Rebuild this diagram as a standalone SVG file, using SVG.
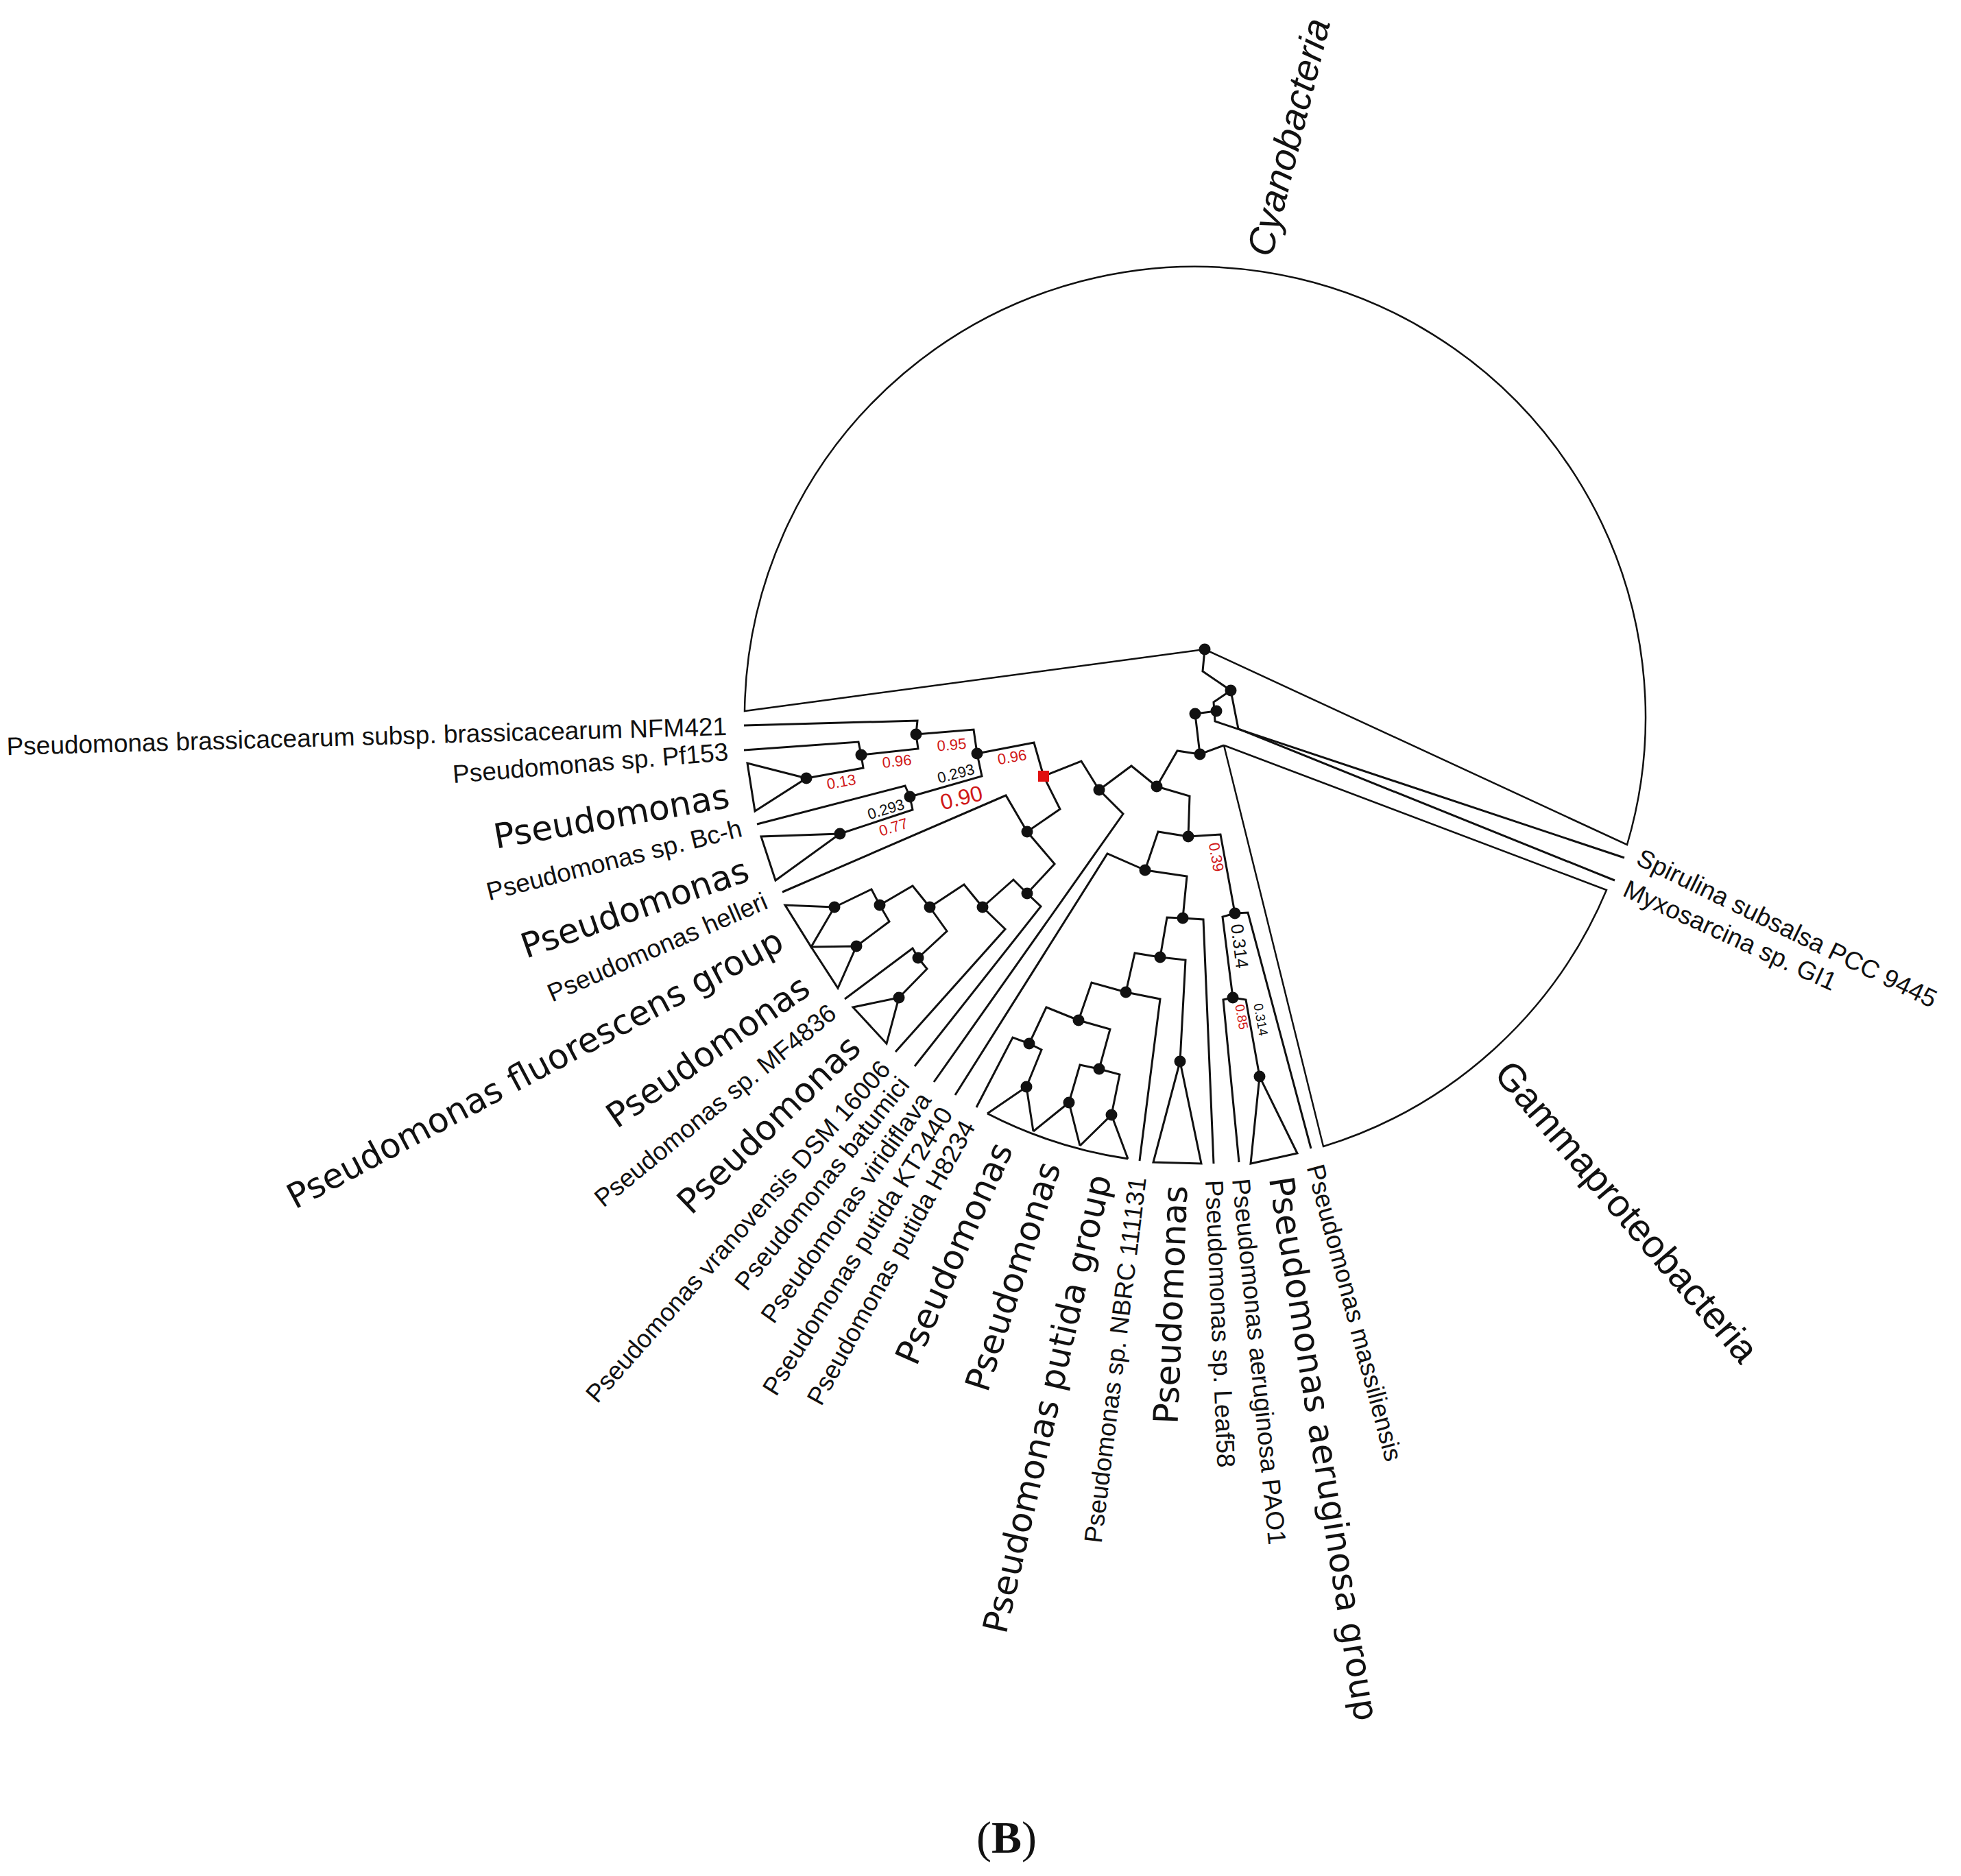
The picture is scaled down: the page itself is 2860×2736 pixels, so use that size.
<svg xmlns="http://www.w3.org/2000/svg" width="2860" height="2736" viewBox="0 0 2860 2736">
<style>
.br{fill:none;stroke:#111;stroke-width:3;stroke-linejoin:miter}
.wg{fill:none;stroke:#111;stroke-width:2.5}
.dot{fill:#111}
.sm{font-family:"Liberation Sans",Arial,sans-serif;font-size:37px;fill:#111}
.big{font-family:"DejaVu Sans",Verdana,sans-serif;font-size:50px;fill:#111}
.sup{font-family:"Liberation Sans",Arial,sans-serif;font-size:22px;fill:#111}
.red{fill:#d01818}
.cl{font-family:"Liberation Sans",Arial,sans-serif;font-size:56px;fill:#111}
</style>
<rect width="2860" height="2736" fill="#fff"/>
<g id="connectors">
<path class="wg" d="M1757,947 L1086,1037 A657,657 0 1 1 2373,1232 L1757,947"/>
<path class="wg" d="M1785,1087 L2343,1298 A657,657 0 0 1 1930,1672 L1785,1087"/>
<path class="br" d="M1757,947 L1754,979 L1795,1007"/>
<path class="br" d="M1795,1007 L1770,1024 L1772,1052 L2369,1251"/>
<path class="br" d="M1795,1007 L1806,1063 L2355,1284"/>
<path class="br" d="M1743,1041 L1774,1037"/>
<path class="br" d="M1743,1041 L1750,1100 L1785,1087"/>
<path class="br" d="M1750,1100 L1717,1095 L1687,1147"/>
<path class="br" d="M1687,1147 L1735,1161 L1733,1220"/>
<path class="br" d="M1687,1147 L1650,1117 L1603,1152"/>
<path class="br" d="M1603,1152 L1577,1110 L1522,1132"/>
<path class="br" d="M1603,1152 L1638,1187 L1362,1578"/>
<path class="br" d="M1522,1132 L1508,1083 L1425,1099"/>
<path class="br" d="M1522,1132 L1546,1180 L1498,1213"/>
<path class="br" d="M1425,1099 L1420,1064 L1336,1071"/>
<path class="br" d="M1425,1099 L1432,1132 L1327,1162"/>
<path class="br" d="M1336,1071 L1338,1051 L1085,1058"/>
<path class="br" d="M1336,1071 L1339,1092 L1256,1101"/>
<path class="br" d="M1256,1101 L1252,1082 L1085,1094"/>
<path class="br" d="M1256,1101 L1259,1120 L1176,1135"/>
<path class="br" d="M1176,1135 L1090,1113 L1101,1183 Z"/>
<path class="br" d="M1327,1162 L1320,1146 L1104,1202"/>
<path class="br" d="M1327,1162 L1331,1181 L1225,1216"/>
<path class="br" d="M1225,1216 L1110,1220 L1131,1284 Z"/>
<path class="br" d="M1498,1213 L1467,1160 L1141,1301"/>
<path class="br" d="M1498,1213 L1538,1260 L1498,1303"/>
<path class="br" d="M1498,1303 L1478,1283 L1433,1323"/>
<path class="br" d="M1498,1303 L1518,1322 L1334,1555"/>
<path class="br" d="M1433,1323 L1406,1290 L1356,1323"/>
<path class="br" d="M1433,1323 L1466,1355 L1306,1534"/>
<path class="br" d="M1356,1323 L1331,1292 L1283,1320"/>
<path class="br" d="M1356,1323 L1381,1358 L1339,1397"/>
<path class="br" d="M1283,1320 L1271,1297 L1217,1323"/>
<path class="br" d="M1283,1320 L1297,1344 L1249,1380"/>
<path class="br" d="M1217,1323 L1145,1320 L1183,1381 Z"/>
<path class="br" d="M1249,1380 L1183,1381 L1222,1441 Z"/>
<path class="br" d="M1339,1397 L1331,1383 L1232,1457"/>
<path class="br" d="M1339,1397 L1352,1413 L1311,1455"/>
<path class="br" d="M1311,1455 L1244,1469 L1293,1522 Z"/>
<path class="br" d="M1733,1220 L1689,1213 L1670,1269"/>
<path class="br" d="M1733,1220 L1780,1217 L1801,1332"/>
<path class="br" d="M1670,1269 L1615,1245 L1393,1597"/>
<path class="br" d="M1670,1269 L1731,1278 L1725,1339"/>
<path class="br" d="M1725,1339 L1702,1338 L1692,1396"/>
<path class="br" d="M1725,1339 L1755,1341 L1770,1697"/>
<path class="br" d="M1692,1396 L1655,1390 L1642,1447"/>
<path class="br" d="M1692,1396 L1729,1400 L1721,1548"/>
<path class="br" d="M1721,1548 L1682,1695 L1752,1697 Z"/>
<path class="br" d="M1642,1447 L1592,1433 L1573,1488"/>
<path class="br" d="M1642,1447 L1692,1457 L1662,1693"/>
<path class="br" d="M1573,1488 L1526,1469 L1501,1522"/>
<path class="br" d="M1573,1488 L1619,1501 L1603,1559"/>
<path class="br" d="M1501,1522 L1477,1513 L1424,1615"/>
<path class="br" d="M1501,1522 L1519,1531 L1497,1585"/>
<path class="br" d="M1603,1559 L1575,1553 L1559,1608"/>
<path class="br" d="M1603,1559 L1633,1567 L1621,1626"/>
<path class="br" d="M1440,1624 L1497,1585 L1507,1650"/>
<path class="br" d="M1507,1650 L1559,1608 L1575,1671"/>
<path class="br" d="M1575,1671 L1621,1626 L1645,1690"/>
<path class="br" d="M1440,1624 A657,657 0 0 0 1645,1690"/>
<path class="br" d="M1801,1332 L1783,1337 L1798,1455"/>
<path class="br" d="M1801,1332 L1820,1331 L1912,1675"/>
<path class="br" d="M1798,1455 L1784,1458 L1807,1695"/>
<path class="br" d="M1798,1455 L1817,1458 L1837,1570"/>
<path class="br" d="M1837,1570 L1824,1697 L1892,1682 Z"/>
</g>
<g id="nodes">
<g id="n-root"><circle class="dot" cx="1757" cy="947" r="8.5"/></g>
<g id="n1"><circle class="dot" cx="1795" cy="1007" r="8.5"/></g>
<g id="n2"><circle class="dot" cx="1774" cy="1037" r="8.5"/></g>
<g id="n3"><circle class="dot" cx="1743" cy="1041" r="8.5"/></g>
<g id="n4"><circle class="dot" cx="1750" cy="1100" r="8.5"/></g>
<g id="n5"><circle class="dot" cx="1687" cy="1147" r="8.5"/></g>
<g id="n6"><circle class="dot" cx="1733" cy="1220" r="8.5"/></g>
<g id="n7"><circle class="dot" cx="1603" cy="1152" r="8.5"/></g>
<g id="n8"><circle class="dot" cx="1670" cy="1269" r="8.5"/></g>
<g id="n9"><circle class="dot" cx="1725" cy="1339" r="8.5"/></g>
<g id="n10"><circle class="dot" cx="1692" cy="1396" r="8.5"/></g>
<g id="n11"><circle class="dot" cx="1642" cy="1447" r="8.5"/></g>
<g id="p1"><circle class="dot" cx="1573" cy="1488" r="8.5"/></g>
<g id="p2"><circle class="dot" cx="1501" cy="1522" r="8.5"/></g>
<g id="p3"><circle class="dot" cx="1603" cy="1559" r="8.5"/></g>
<g id="p4"><circle class="dot" cx="1559" cy="1608" r="8.5"/></g>
<g id="p5"><circle class="dot" cx="1621" cy="1626" r="8.5"/></g>
<g id="p6"><circle class="dot" cx="1497" cy="1585" r="8.5"/></g>
<g id="t1"><circle class="dot" cx="1721" cy="1548" r="8.5"/></g>
<g id="a1"><circle class="dot" cx="1801" cy="1332" r="8.5"/></g>
<g id="a2"><circle class="dot" cx="1798" cy="1455" r="8.5"/></g>
<g id="a3"><circle class="dot" cx="1837" cy="1570" r="8.5"/></g>
<g id="m1"><circle class="dot" cx="1336" cy="1071" r="8.5"/></g>
<g id="m2"><circle class="dot" cx="1425" cy="1099" r="8.5"/></g>
<g id="m3"><circle class="dot" cx="1256" cy="1101" r="8.5"/></g>
<g id="m4"><circle class="dot" cx="1176" cy="1135" r="8.5"/></g>
<g id="m5"><circle class="dot" cx="1327" cy="1162" r="8.5"/></g>
<g id="m6"><circle class="dot" cx="1225" cy="1216" r="8.5"/></g>
<g id="m7"><circle class="dot" cx="1498" cy="1213" r="8.5"/></g>
<g id="m8"><circle class="dot" cx="1498" cy="1303" r="8.5"/></g>
<g id="m9"><circle class="dot" cx="1433" cy="1323" r="8.5"/></g>
<g id="m10"><circle class="dot" cx="1356" cy="1323" r="8.5"/></g>
<g id="m11"><circle class="dot" cx="1283" cy="1320" r="8.5"/></g>
<g id="m12"><circle class="dot" cx="1217" cy="1323" r="8.5"/></g>
<g id="m13"><circle class="dot" cx="1249" cy="1380" r="8.5"/></g>
<g id="m14"><circle class="dot" cx="1339" cy="1397" r="8.5"/></g>
<g id="m15"><circle class="dot" cx="1311" cy="1455" r="8.5"/></g>
<g id="n-red"><rect x="1514" y="1124" width="16" height="16" fill="#e01010"/></g>
</g>
<g id="support">
<text class="sup red" transform="translate(1388,1086) rotate(-5)" text-anchor="middle" dy="0.35em">0.95</text>
<text class="sup red" transform="translate(1308,1110) rotate(-6)" text-anchor="middle" dy="0.35em">0.96</text>
<text class="sup red" transform="translate(1227,1140) rotate(-10)" text-anchor="middle" dy="0.35em">0.13</text>
<text class="sup red" transform="translate(1476,1104) rotate(-10)" text-anchor="middle" dy="0.35em">0.96</text>
<text class="sup" transform="translate(1394,1128) rotate(-15)" text-anchor="middle" dy="0.35em">0.293</text>
<text class="sup red" style="font-size:32px" transform="translate(1402,1163) rotate(-14)" text-anchor="middle" dy="0.35em">0.90</text>
<text class="sup" transform="translate(1292,1180) rotate(-17)" text-anchor="middle" dy="0.35em">0.293</text>
<text class="sup red" transform="translate(1303,1206) rotate(-17)" text-anchor="middle" dy="0.35em">0.77</text>
<text class="sup red" transform="translate(1774,1250) rotate(80)" text-anchor="middle" dy="0.35em">0.39</text>
<text class="sup" style="font-size:26px" transform="translate(1808,1380) rotate(83)" text-anchor="middle" dy="0.35em">0.314</text>
<text class="sup" style="font-size:19px" transform="translate(1839,1487) rotate(80)" text-anchor="middle" dy="0.35em">0.314</text>
<text class="sup red" style="font-size:19px" transform="translate(1811,1483) rotate(80)" text-anchor="middle" dy="0.35em">0.85</text>
</g>
<g id="labels">
<g id="l1"><text class="sm" transform="translate(1060,1059) rotate(-1.6)" text-anchor="end" dy="0.35em">Pseudomonas brassicacearum subsp. brassicacearum NFM421</text></g>
<g id="l2"><text class="sm" transform="translate(1062,1096) rotate(-4.7)" text-anchor="end" dy="0.35em">Pseudomonas sp. Pf153</text></g>
<g id="l3"><text class="big" transform="translate(1063,1160) rotate(-10)" text-anchor="end" dy="0.35em">Pseudomonas</text></g>
<g id="l4"><text class="sm" transform="translate(1081,1207) rotate(-14.2)" text-anchor="end" dy="0.35em">Pseudomonas sp. Bc-h</text></g>
<g id="l5"><text class="big" transform="translate(1090,1267) rotate(-19.2)" text-anchor="end" dy="0.35em">Pseudomonas</text></g>
<g id="l6"><text class="sm" transform="translate(1117,1312) rotate(-23.5)" text-anchor="end" dy="0.35em">Pseudomonas helleri</text></g>
<g id="l7"><text class="big" transform="translate(1138,1368) rotate(-28)" text-anchor="end" dy="0.35em">Pseudomonas fluorescens group</text></g>
<g id="l8"><text class="big" transform="translate(1175,1434) rotate(-34.8)" text-anchor="end" dy="0.35em">Pseudomonas</text></g>
<g id="l9"><text class="sm" transform="translate(1214,1472) rotate(-39.3)" text-anchor="end" dy="0.35em">Pseudomonas sp. MF4836</text></g>
<g id="l10"><text class="big" transform="translate(1246,1519) rotate(-44)" text-anchor="end" dy="0.35em">Pseudomonas</text></g>
<g id="l11"><text class="sm" transform="translate(1291,1552) rotate(-48.6)" text-anchor="end" dy="0.35em">Pseudomonas vranovensis DSM 16006</text></g>
<g id="l12"><text class="sm" transform="translate(1318,1575) rotate(-51.6)" text-anchor="end" dy="0.35em">Pseudomonas batumici</text></g>
<g id="l13"><text class="sm" transform="translate(1349,1597) rotate(-54.8)" text-anchor="end" dy="0.35em">Pseudomonas viridiflava</text></g>
<g id="l14"><text class="sm" transform="translate(1380,1618) rotate(-57.9)" text-anchor="end" dy="0.35em">Pseudomonas putida KT2440</text></g>
<g id="l15"><text class="sm" transform="translate(1412,1637) rotate(-61.1)" text-anchor="end" dy="0.35em">Pseudomonas putida H8234</text></g>
<g id="l16"><text class="big" transform="translate(1462,1669) rotate(-66)" text-anchor="end" dy="0.35em">Pseudomonas</text></g>
<g id="l17"><text class="big" transform="translate(1531,1696) rotate(-72)" text-anchor="end" dy="0.35em">Pseudomonas</text></g>
<g id="l18"><text class="big" transform="translate(1604,1714) rotate(-77)" text-anchor="end" dy="0.35em">Pseudomonas putida group</text></g>
<g id="l19"><text class="sm" transform="translate(1659,1717) rotate(-83)" text-anchor="end" dy="0.35em">Pseudomonas sp. NBRC 111131</text></g>
<g id="l20"><text class="big" transform="translate(1714,1729) rotate(-87.7)" text-anchor="end" dy="0.35em">Pseudomonas</text></g>
<g id="l21"><text class="sm" transform="translate(1771,1721) rotate(87.6)" dy="0.35em">Pseudomonas sp. Leaf58</text></g>
<g id="l22"><text class="sm" transform="translate(1810,1719) rotate(84.3)" dy="0.35em">Pseudomonas aeruginosa PAO1</text></g>
<g id="l23"><text class="big" transform="translate(1868,1716) rotate(81)" dy="0.35em">Pseudomonas aeruginosa group</text></g>
<g id="l24"><text class="sm" transform="translate(1918,1699) rotate(75)" dy="0.35em">Pseudomonas massiliensis</text></g>
<g id="l25"><text class="sm" transform="translate(2390,1248) rotate(26)" dy="0.35em">Spirulina subsalsa PCC 9445</text></g>
<g id="l26"><text class="sm" transform="translate(2370,1294) rotate(24.5)" dy="0.35em">Myxosarcina sp. GI1</text></g>
<g id="l27"><text class="cl" style="font-style:italic;font-size:55px" transform="translate(1836,372) rotate(-76)" dy="0.35em">Cyanobacteria</text></g>
<g id="l28"><text class="cl" transform="translate(2192,1555) rotate(49.5)" dy="0.35em">Gammaproteobacteria</text></g>
<g id="l29"><text x="1468" y="2702" text-anchor="middle" style="font-family:'Liberation Serif','Times New Roman',serif;font-size:66px;fill:#111">(<tspan font-weight="bold">B</tspan>)</text></g>
</g>
</svg>
